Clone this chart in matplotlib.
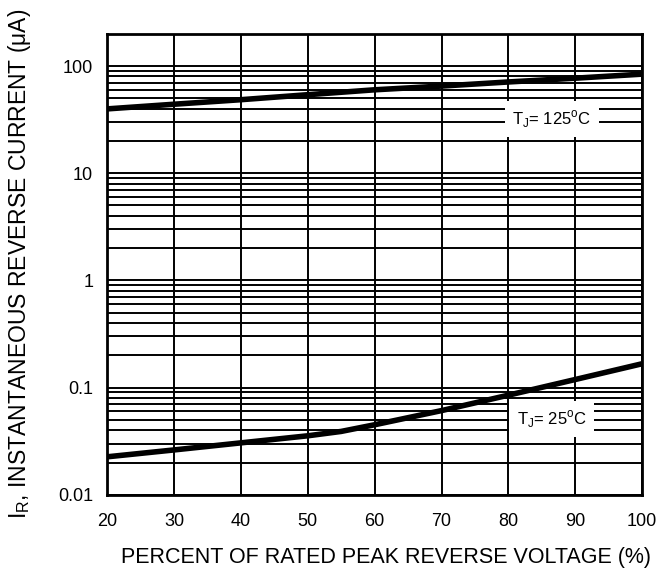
import matplotlib
matplotlib.use('Agg')
import matplotlib.pyplot as plt
from matplotlib.ticker import LogLocator, FixedLocator, NullFormatter

plt.rcParams['font.family'] = ['Liberation Sans', 'DejaVu Sans']

# Curvas
volt_125 = [20, 30, 40, 50, 60, 70, 80, 90, 100]
ir_125 = [39.8, 44, 48.5, 54, 60, 65, 71, 77, 84]

volt_25 = [20, 30, 40, 50, 55, 60, 70, 80, 90, 100]
ir_25 = [0.0226, 0.0262, 0.0305, 0.0355, 0.039, 0.045, 0.061, 0.085, 0.119, 0.167]

x_ticks = [20, 30, 40, 50, 60, 70, 80, 90, 100]
y_ticks = [0.01, 0.1, 1, 10, 100]
y_labels = ['0.01', '0.1', '1', '10', '100']

fig = plt.figure(figsize=(6.69, 5.72), dpi=100)
ax = fig.add_axes([0.160, 0.135, 0.800, 0.806])

ax.set_yscale('log')
ax.set_xlim(20, 100)
ax.set_ylim(0.01, 200)

ax.xaxis.set_major_locator(FixedLocator(x_ticks))
ax.yaxis.set_major_locator(FixedLocator(y_ticks))
ax.yaxis.set_minor_locator(LogLocator(base=10, subs=range(2, 10)))
ax.yaxis.set_minor_formatter(NullFormatter())
ax.set_yticklabels(y_labels)

ax.grid(True, which='major', axis='both', color='black', linewidth=1.4)
ax.grid(True, which='minor', axis='y', color='black', linewidth=1.4)
ax.tick_params(which='both', length=0, labelsize=13)
ax.tick_params(axis='x', pad=13)
ax.tick_params(axis='y', pad=10)

for s in ax.spines.values():
    s.set_linewidth(2)

ax.plot(volt_125, ir_125, color='black', linewidth=4, zorder=5)
ax.plot(volt_25, ir_25, color='black', linewidth=4, zorder=5)

box = dict(boxstyle='square,pad=0.45', facecolor='white', edgecolor='none')
ax.text(86.5, 32, r'T$_\mathregular{J}$= 125$^\mathregular{o}$C', fontsize=12, ha='center', va='center',
        bbox=box, zorder=6)
ax.text(86.5, 0.051, r'T$_\mathregular{J}$= 25$^\mathregular{o}$C', fontsize=12, ha='center', va='center',
        bbox=box, zorder=6)

ax.set_xlabel('PERCENT OF RATED PEAK REVERSE VOLTAGE (%)', fontsize=15.5)
ax.xaxis.set_label_coords(0.522, -0.113)
ax.set_ylabel(r'I$_\mathregular{R}$, INSTANTANEOUS REVERSE CURRENT (μA)', fontsize=16.5, labelpad=18)

fig.savefig('out.png', dpi=100)
